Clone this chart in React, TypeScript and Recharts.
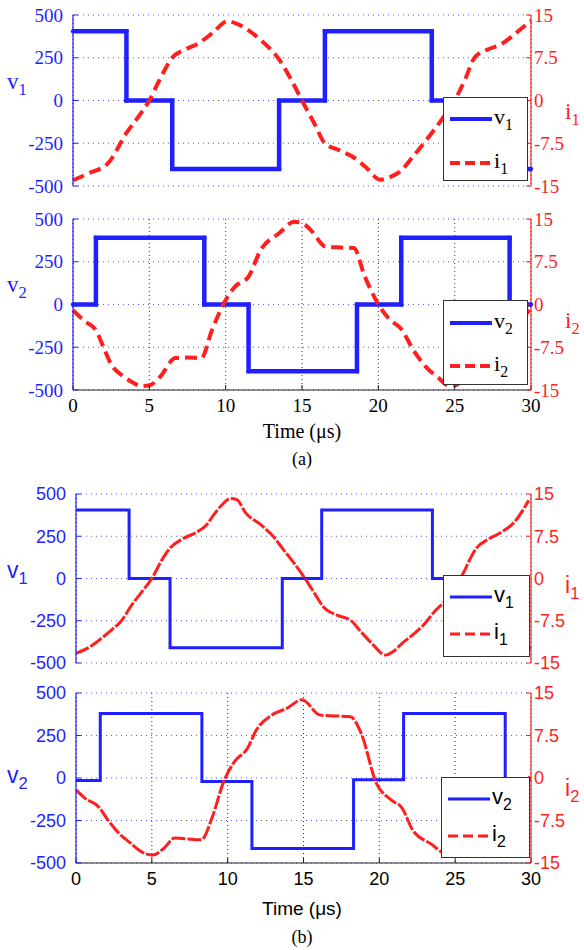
import React from "react";
import { ComposedChart, Line, XAxis, YAxis, CartesianGrid, Legend } from "recharts";

const BLUE = "#1f1fff";
const RED = "#ff1f1f";
const SERIF = '"Liberation Serif", "Times New Roman", serif';
const SANS = '"Liberation Sans", Arial, sans-serif';

const timeTicks = [0, 5, 10, 15, 20, 25, 30];
const voltTicks = [-500, -250, 0, 250, 500];
const currTicks = [-15, -7.5, 0, 7.5, 15];

// (a) upper panel: v1 / i1
const a1VoltT = [0, 3.5, 3.5, 6.5, 6.5, 13.5, 13.5, 16.5, 16.5, 23.5, 23.5, 26.5, 26.5, 30];
const a1Volt = [405, 405, 0, 0, -400, -400, 0, 0, 405, 405, 0, 0, -400, -400];
const a1CurrT = [0, 1, 2.3, 3.5, 4.3, 5, 5.7, 6.5, 7.4, 8.2, 9.2, 10.1, 10.7, 11.5, 12.3, 13.5, 14.3, 15, 15.8, 16.5, 17.5, 18.4, 19.3, 20.1, 20.8, 21.5, 22.1, 23.5, 24.3, 25, 25.7, 26.3, 27.2, 28, 29, 30];
const a1Curr = [-14, -12.8, -11, -5.7, -2.8, 0, 3.8, 7.5, 9, 10, 12, 13.9, 13.5, 12.3, 10.6, 7.2, 3.6, 0, -4, -7.5, -8.8, -10, -12, -13.9, -13.4, -12.3, -10.4, -5.7, -2.8, 0, 3.8, 7.5, 9, 9.8, 11.8, 14];

// (a) lower panel: v2 / i2
const a2VoltT = [0, 1.5, 1.5, 8.6, 8.6, 11.5, 11.5, 18.6, 18.6, 21.5, 21.5, 28.6, 28.6, 30];
const a2Volt = [0, 0, 390, 390, 0, 0, -390, -390, 0, 0, 390, 390, 0, 0];
const a2CurrT = [0, 0.8, 1.5, 2, 2.5, 3.2, 3.8, 4.5, 5, 5.7, 6.7, 7.5, 8.4, 9.1, 9.9, 10.6, 11.5, 12.3, 13.5, 14.5, 15, 15.7, 16.5, 17.5, 18.4, 19.1, 19.9, 20.7, 21.5, 22.3, 23.1, 24, 24.5, 25, 25.7, 26.7, 27.5, 28.4, 29.1, 30];
const a2Curr = [-1, -3, -4.5, -7.5, -10.5, -12.4, -13.5, -14.3, -14.2, -12.7, -9.4, -9.3, -9.4, -4.5, 0.3, 3.1, 4.9, 9.6, 12.5, 14.5, 14.3, 12.7, 10.2, 10, 9.9, 5, 0.5, -2.5, -4.3, -8, -10.9, -13, -14.1, -14.2, -12.7, -9.4, -9.3, -9.4, -4.5, -0.5];

// (b) upper panel: v1 / i1
const b1VoltT = [0, 3.5, 3.5, 6.2, 6.2, 13.6, 13.6, 16.2, 16.2, 23.5, 23.5, 26.2, 26.2, 30];
const b1Volt = [405, 405, 0, 0, -410, -410, 0, 0, 405, 405, 0, 0, -410, -410];
const b1CurrT = [0, 1, 1.4, 2.35, 3, 3.6, 4.3, 5, 5.6, 6.2, 7, 8, 8.6, 9, 9.6, 10.2, 10.6, 11.2, 12.2, 13, 13.6, 14.3, 15.1, 15.7, 16.3, 17.2, 18.1, 18.8, 19.5, 20.4, 20.9, 21.5, 22.2, 22.9, 23.6, 24.4, 25.4, 26.4, 27.2, 28.1, 28.9, 29.85];
const b1Curr = [-13.3, -12, -11.2, -9.1, -7.5, -5, -2.5, 0, 3, 5.4, 7, 8.3, 9.5, 11, 13, 14.2, 14, 11.6, 9.5, 7.5, 5.4, 3, 0, -2.5, -5, -6.5, -7.4, -9.5, -11.5, -13.6, -13, -11.5, -10, -8.3, -6, -3.8, 0.3, 5.4, 7, 8.3, 10, 13.9];

// (b) lower panel: v2 / i2
const b2VoltT = [0, 1.6, 1.6, 8.3, 8.3, 11.6, 11.6, 18.3, 18.3, 21.6, 21.6, 28.3, 28.3, 30];
const b2Volt = [-15, -15, 380, 380, -20, -20, -415, -415, -10, -10, 380, 380, -10, -10];
const b2CurrT = [0, 0.6, 1.5, 2.1, 2.85, 3.6, 4.3, 5.05, 5.8, 6.5, 8.25, 9, 9.7, 10.45, 11.3, 11.9, 12.9, 13.9, 14.9, 16.1, 18.1, 18.8, 19.8, 20.8, 21.5, 22.2, 23.5, 24.2, 25, 25.8, 26.5, 28.3, 29, 29.7, 30];
const b2Curr = [-2.1, -3.6, -5.1, -7.4, -9.8, -11.5, -13, -13.6, -12.4, -10.6, -10.9, -6.8, -0.9, 2.9, 5.2, 8.5, 11.1, 12.3, 13.8, 11.1, 10.8, 7.9, -0.9, -3.9, -5.3, -9.2, -11.8, -13.2, -13.6, -12.4, -10.6, -10.9, -6.8, -0.9, 0.5];

const volt = (ts: number[], vs: number[]) => ts.map((t, k) => ({ t, v: vs[k] }));
const curr = (ts: number[], vs: number[]) => ts.map((t, k) => ({ t, i: vs[k] }));

function Sub({ name, n }: { name: string; n: string }) {
  return (
    <span>
      {name}
      <sub style={{ fontSize: "0.72em", verticalAlign: "-0.35em" }}>{n}</sub>
    </span>
  );
}

function LegendBox({ n, font, thick, rows }: { n: string; font: string; thick: boolean; rows: number[] }) {
  const w = thick ? 4 : 3;
  return (
    <div
      style={{
        width: "100%",
        height: "100%",
        boxSizing: "border-box",
        border: "1.5px solid #333",
        background: "#fff",
        position: "relative",
        fontFamily: font,
        fontSize: 22,
        lineHeight: 1,
        color: "#000",
      }}
    >
      {[0, 1].map((r) => (
        <div key={r} style={{ position: "absolute", left: 6, top: rows[r] - 12, height: 24, display: "flex", alignItems: "center" }}>
          <svg width={42} height={10}>
            <line x1={0} y1={5} x2={42} y2={5} stroke={r === 0 ? BLUE : RED} strokeWidth={w} strokeDasharray={r === 0 ? undefined : "10 5"} />
          </svg>
          <span style={{ marginLeft: 2 }}>
            <Sub name={r === 0 ? "v" : "i"} n={n} />
          </span>
        </div>
      ))}
    </div>
  );
}

type PanelProps = {
  top: number;
  bottom: number;
  left: number;
  right: number;
  font: string;
  thick: boolean;
  showTime: boolean;
  n: string;
  vData: { t: number; v: number }[];
  iData: { t: number; i: number }[];
  legend: { left: number; top: number; width: number; height: number; rows: number[] };
};

function Panel(p: PanelProps) {
  const marginTop = 15;
  const xh = p.showTime ? 30 : 0;
  const mb = p.showTime ? 0 : 12;
  const height = marginTop + (p.bottom - p.top) + xh + mb;
  const chartTop = p.top - marginTop;
  const tickStyle = { fontFamily: p.font, fontSize: p.thick ? 19 : 18 };
  return (
    <div style={{ position: "absolute", left: 0, top: chartTop, width: 584, height }}>
      <ComposedChart width={584} height={height} margin={{ top: marginTop, right: 0, bottom: mb, left: 0 }}>
        <CartesianGrid yAxisId="v" vertical={false} stroke="#5555ff" strokeDasharray="1 4" />
        <CartesianGrid yAxisId="v" horizontal={false} stroke="#333" strokeDasharray="1 3" />
        <XAxis
          dataKey="t"
          type="number"
          domain={[0, 30]}
          ticks={timeTicks}
          interval={0}
          height={xh}
          tick={p.showTime ? { ...tickStyle, fill: "#000" } : false}
          tickSize={-5}
          tickMargin={14}
          axisLine={{ stroke: "#222", strokeWidth: 1.2 }}
          tickLine={{ stroke: "#222" }}
        />
        <XAxis
          xAxisId="top"
          orientation="top"
          dataKey="t"
          type="number"
          domain={[0, 30]}
          ticks={timeTicks}
          interval={0}
          height={0}
          tick={false}
          tickSize={-5}
          axisLine={{ stroke: "#555", strokeWidth: 1.2 }}
          tickLine={{ stroke: "#555" }}
        />
        <YAxis
          yAxisId="v"
          width={p.left}
          domain={[-500, 500]}
          ticks={voltTicks}
          interval={0}
          tick={{ ...tickStyle, fill: BLUE }}
          tickSize={-5}
          tickMargin={15}
          axisLine={{ stroke: BLUE, strokeWidth: 1.2 }}
          tickLine={{ stroke: BLUE }}
        />
        <YAxis
          yAxisId="i"
          orientation="right"
          width={584 - p.right}
          domain={[-15, 15]}
          ticks={currTicks}
          interval={0}
          tick={{ ...tickStyle, fill: RED }}
          tickSize={-5}
          tickMargin={8}
          axisLine={{ stroke: RED, strokeWidth: 1.2 }}
          tickLine={{ stroke: RED }}
        />
        <Line
          yAxisId="v"
          data={p.vData}
          dataKey="v"
          name={"v" + p.n}
          type="linear"
          stroke={BLUE}
          strokeWidth={p.thick ? 4.5 : 3}
          dot={p.thick ? { r: 1.8, fill: BLUE, stroke: BLUE, strokeWidth: 1 } : false}
          isAnimationActive={false}
        />
        <Line
          yAxisId="i"
          data={p.iData}
          dataKey="i"
          name={"i" + p.n}
          type="monotone"
          stroke={RED}
          strokeWidth={p.thick ? 4 : 3}
          strokeDasharray={p.thick ? "12 6" : "14 2"}
          dot={false}
          isAnimationActive={false}
        />
        <Legend
          layout="vertical"
          align="center"
          verticalAlign="middle"
          wrapperStyle={{
            left: p.legend.left,
            top: p.legend.top - chartTop,
            width: p.legend.width,
            height: p.legend.height,
          }}
          content={() => <LegendBox n={p.n} font={p.font} thick={p.thick} rows={p.legend.rows} />}
        />
      </ComposedChart>
    </div>
  );
}

function Label({ x, y, color, font, name, n }: { x: number; y: number; color: string; font: string; name: string; n: string }) {
  return (
    <div style={{ position: "absolute", left: x, top: y, color, fontFamily: font, fontSize: 23, lineHeight: 1, whiteSpace: "nowrap" }}>
      <Sub name={name} n={n} />
    </div>
  );
}

function Caption({ y, text, font, size }: { y: number; text: string; font: string; size: number }) {
  return (
    <div style={{ position: "absolute", left: 73, width: 458, top: y - size / 2, textAlign: "center", fontFamily: font, fontSize: size, lineHeight: 1, color: "#000" }}>
      {text}
    </div>
  );
}

export default function App() {
  return (
    <div style={{ position: "absolute", left: 0, top: 0, width: 584, height: 950, background: "#fff", overflow: "hidden" }}>
      <Panel
        top={15}
        bottom={186}
        left={73}
        right={531}
        font={SERIF}
        thick
        showTime={false}
        n="1"
        vData={volt(a1VoltT, a1Volt)}
        iData={curr(a1CurrT, a1Curr)}
        legend={{ left: 443, top: 97, width: 85, height: 84, rows: [21, 65] }}
      />
      <Panel
        top={219}
        bottom={390}
        left={73}
        right={531}
        font={SERIF}
        thick
        showTime
        n="2"
        vData={volt(a2VoltT, a2Volt)}
        iData={curr(a2CurrT, a2Curr)}
        legend={{ left: 443, top: 300, width: 85, height: 85, rows: [22, 65] }}
      />
      <Caption y={431} text="Time (μs)" font={SERIF} size={20} />
      <Caption y={459} text="(a)" font={SERIF} size={18} />
      <Panel
        top={494}
        bottom={663}
        left={76}
        right={531}
        font={SANS}
        thick={false}
        showTime={false}
        n="1"
        vData={volt(b1VoltT, b1Volt)}
        iData={curr(b1CurrT, b1Curr)}
        legend={{ left: 443, top: 575, width: 87, height: 82, rows: [21, 58] }}
      />
      <Panel
        top={693}
        bottom={863}
        left={76}
        right={531}
        font={SANS}
        thick={false}
        showTime
        n="2"
        vData={volt(b2VoltT, b2Volt)}
        iData={curr(b2CurrT, b2Curr)}
        legend={{ left: 441, top: 777, width: 89, height: 81, rows: [21, 58] }}
      />
      <Caption y={908} text="Time (μs)" font={SANS} size={19} />
      <Caption y={937} text="(b)" font={SERIF} size={18} />
      <Label x={7} y={70} color={BLUE} font={SERIF} name="v" n="1" />
      <Label x={565} y={100} color={RED} font={SERIF} name="i" n="1" />
      <Label x={7} y={273} color={BLUE} font={SERIF} name="v" n="2" />
      <Label x={565} y={309} color={RED} font={SERIF} name="i" n="2" />
      <Label x={7} y={559} color={BLUE} font={SANS} name="v" n="1" />
      <Label x={565} y={574} color={RED} font={SANS} name="i" n="1" />
      <Label x={7} y={764} color={BLUE} font={SANS} name="v" n="2" />
      <Label x={565} y={777} color={RED} font={SANS} name="i" n="2" />
    </div>
  );
}
